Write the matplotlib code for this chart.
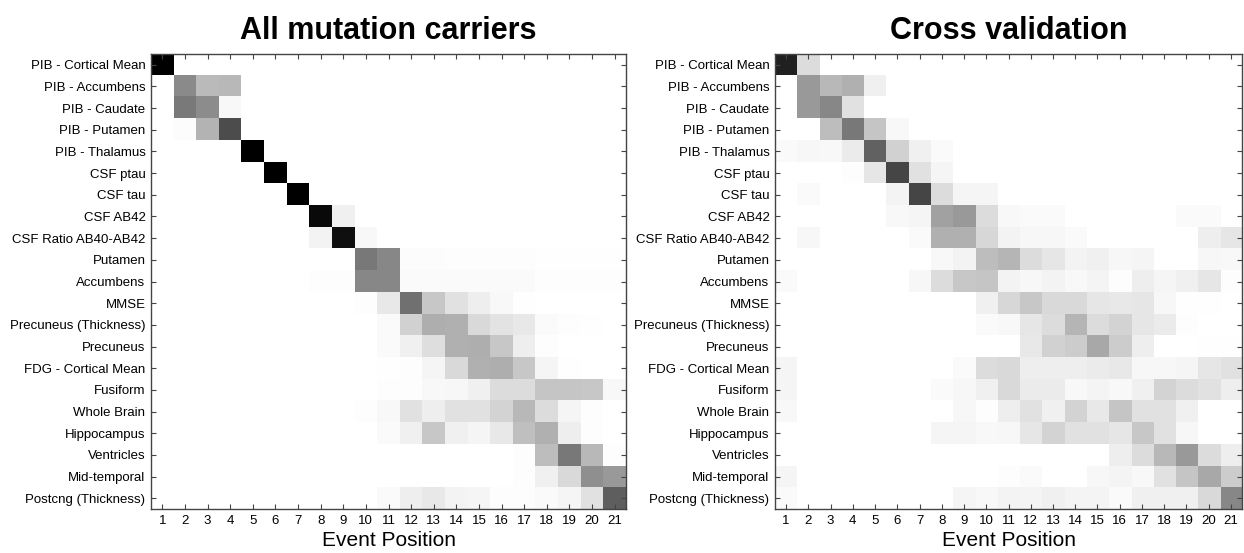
import matplotlib
matplotlib.use("Agg")
import matplotlib.pyplot as plt
import numpy as np

plt.rcParams["font.family"] = ["Liberation Sans", "DejaVu Sans"]

biomarkers = [
    "PIB - Cortical Mean", "PIB - Accumbens", "PIB - Caudate", "PIB - Putamen",
    "PIB - Thalamus", "CSF ptau", "CSF tau", "CSF AB42", "CSF Ratio AB40-AB42",
    "Putamen", "Accumbens", "MMSE", "Precuneus (Thickness)", "Precuneus",
    "FDG - Cortical Mean", "Fusiform", "Whole Brain", "Hippocampus",
    "Ventricles", "Mid-temporal", "Postcng (Thickness)",
]
event_positions = list(range(1, 22))
titles = ["All mutation carriers", "Cross validation"]

# positional variance, all mutation carriers
all_carriers = [
    [1.00, 0, 0, 0, 0, 0, 0, 0, 0, 0, 0, 0, 0, 0, 0, 0, 0, 0, 0, 0, 0],
    [0, .46, .27, .28, 0, 0, 0, 0, 0, 0, 0, 0, 0, 0, 0, 0, 0, 0, 0, 0, 0],
    [0, .52, .45, .03, 0, 0, 0, 0, 0, 0, 0, 0, 0, 0, 0, 0, 0, 0, 0, 0, 0],
    [0, .015, .30, .70, 0, 0, 0, 0, 0, 0, 0, 0, 0, 0, 0, 0, 0, 0, 0, 0, 0],
    [0, 0, 0, 0, 1.00, 0, 0, 0, 0, 0, 0, 0, 0, 0, 0, 0, 0, 0, 0, 0, 0],
    [0, 0, 0, 0, 0, 1.00, 0, 0, 0, 0, 0, 0, 0, 0, 0, 0, 0, 0, 0, 0, 0],
    [0, 0, 0, 0, 0, 0, 1.00, 0, 0, 0, 0, 0, 0, 0, 0, 0, 0, 0, 0, 0, 0],
    [0, 0, 0, 0, 0, 0, 0, .96, .06, 0, 0, 0, 0, 0, 0, 0, 0, 0, 0, 0, 0],
    [0, 0, 0, 0, 0, 0, 0, .05, .94, .03, 0, 0, 0, 0, 0, 0, 0, 0, 0, 0, 0],
    [0, 0, 0, 0, 0, 0, 0, 0, 0, .53, .47, .015, .015, .01, .01, .01, .01, .005, .005, .005, .005],
    [0, 0, 0, 0, 0, 0, 0, .01, .01, .47, .47, .02, .02, .02, .02, .02, .02, .01, .01, .01, .01],
    [0, 0, 0, 0, 0, 0, 0, 0, 0, .01, .09, .56, .22, .12, .07, .03, .005, 0, 0, 0, 0],
    [0, 0, 0, 0, 0, 0, 0, 0, 0, 0, .02, .18, .32, .31, .15, .11, .09, .02, .01, .005, 0],
    [0, 0, 0, 0, 0, 0, 0, 0, 0, 0, .02, .06, .13, .31, .32, .22, .07, .01, 0, 0, 0],
    [0, 0, 0, 0, 0, 0, 0, 0, 0, 0, .005, .01, .04, .15, .31, .32, .22, .04, .005, 0, 0],
    [0, 0, 0, 0, 0, 0, 0, 0, 0, 0, .01, .01, .03, .035, .06, .14, .14, .23, .23, .22, .03],
    [0, 0, 0, 0, 0, 0, 0, 0, 0, .01, .03, .12, .07, .12, .12, .17, .28, .14, .04, .01, 0],
    [0, 0, 0, 0, 0, 0, 0, 0, 0, 0, .02, .06, .22, .06, .04, .09, .25, .31, .07, .01, 0],
    [0, 0, 0, 0, 0, 0, 0, 0, 0, 0, 0, 0, 0, 0, 0, 0, .01, .26, .53, .28, .01],
    [0, 0, 0, 0, 0, 0, 0, 0, 0, 0, 0, 0, 0, 0, 0, 0, .01, .06, .15, .44, .40],
    [0, 0, 0, 0, 0, 0, 0, 0, 0, 0, .02, .07, .09, .05, .04, .01, .01, .02, .04, .12, .63],
]

# positional variance, cross validation
cross_validation = [
    [.87, .14, 0, 0, 0, 0, 0, 0, 0, 0, 0, 0, 0, 0, 0, 0, 0, 0, 0, 0, 0],
    [0, .40, .28, .31, .06, 0, 0, 0, 0, 0, 0, 0, 0, 0, 0, 0, 0, 0, 0, 0, 0],
    [0, .40, .47, .12, 0, 0, 0, 0, 0, 0, 0, 0, 0, 0, 0, 0, 0, 0, 0, 0, 0],
    [0, 0, .26, .53, .23, .03, 0, 0, 0, 0, 0, 0, 0, 0, 0, 0, 0, 0, 0, 0, 0],
    [.02, .035, .03, .08, .62, .18, .06, .02, 0, 0, 0, 0, 0, 0, 0, 0, 0, 0, 0, 0, 0],
    [0, 0, 0, .01, .10, .73, .12, .04, 0, 0, 0, 0, 0, 0, 0, 0, 0, 0, 0, 0, 0],
    [0, .02, 0, 0, 0, .05, .73, .14, .04, .04, 0, 0, 0, 0, 0, 0, 0, 0, 0, 0, 0],
    [0, 0, 0, 0, 0, .03, .04, .37, .40, .14, .03, .02, .02, 0, 0, 0, 0, 0, .02, .02, 0],
    [0, .035, 0, 0, 0, 0, .02, .31, .31, .16, .05, .035, .035, .02, 0, 0, 0, 0, 0, .07, .10],
    [0, 0, 0, 0, 0, 0, 0, .03, .05, .26, .29, .14, .10, .05, .06, .035, .04, 0, 0, .035, .03],
    [.02, 0, 0, 0, 0, 0, .035, .14, .22, .23, .05, .035, .05, .03, .045, .01, .07, .04, .06, .10, .01],
    [0, 0, 0, 0, 0, 0, 0, 0, 0, .06, .16, .22, .15, .15, .10, .09, .10, .035, .005, .005, 0],
    [0, 0, 0, 0, 0, 0, 0, 0, 0, .02, .03, .10, .14, .29, .14, .17, .10, .08, .01, 0, 0],
    [0, 0, 0, 0, 0, 0, 0, 0, 0, 0, 0, .09, .18, .20, .34, .20, .07, 0, 0, .005, .005],
    [.04, 0, 0, 0, 0, 0, 0, 0, .02, .14, .15, .07, .07, .07, .08, .09, .035, .035, .04, .10, .12],
    [.04, 0, 0, 0, 0, 0, 0, .02, .035, .06, .15, .08, .08, .03, .045, .03, .06, .17, .14, .12, .07],
    [.03, 0, 0, 0, 0, 0, 0, 0, .035, .01, .07, .12, .06, .17, .09, .23, .12, .12, .06, 0, 0],
    [0, 0, 0, 0, 0, 0, 0, .04, .04, .03, .035, .10, .17, .12, .12, .10, .22, .12, .035, 0, 0],
    [0, 0, 0, 0, 0, 0, 0, 0, 0, 0, 0, 0, 0, 0, 0, .07, .14, .28, .40, .14, .07],
    [.04, 0, 0, 0, 0, 0, 0, 0, 0, 0, .01, .02, 0, 0, .035, .045, .03, .12, .23, .34, .20],
    [.02, 0, 0, 0, 0, 0, 0, 0, .04, .03, .05, .045, .06, .045, .045, .02, .06, .06, .06, .15, .47],
]

W, H = 1244, 553
fig = plt.figure(figsize=(W / 100, H / 100), dpi=100)

# axes boxes in pixels: left, right, top, bottom
boxes = [(151, 626, 54, 509), (775, 1242, 54, 509)]
spine_col = "#444444"

for (x0, x1, y0, y1), title, mat in zip(boxes, titles, [all_carriers, cross_validation]):
    ax = fig.add_axes([x0 / W, (H - y1) / H, (x1 - x0) / W, (y1 - y0) / H])
    data = np.array(mat)
    n_rows, n_cols = data.shape
    ax.imshow(data, cmap="gray_r", vmin=0, vmax=1, aspect="auto",
              interpolation="nearest",
              extent=(0.5, n_cols + 0.5, n_rows + 0.5, 0.5))
    ax.set_xticks(event_positions)
    ax.set_xticklabels([str(p) for p in event_positions])
    ax.set_yticks(np.arange(1, len(biomarkers) + 1))
    ax.set_yticklabels(biomarkers)
    ax.tick_params(direction="in", length=3.5, width=0.8, color=spine_col,
                   top=True, right=True, labelsize=9.5, pad=4)
    for sp in ax.spines.values():
        sp.set_color(spine_col)
        sp.set_linewidth(1.0)
    ax.set_xlabel("Event Position", fontsize=15, labelpad=3)
    ax.set_title(title, fontsize=22, fontweight="bold", pad=11)

fig.savefig("out.png", dpi=100)
